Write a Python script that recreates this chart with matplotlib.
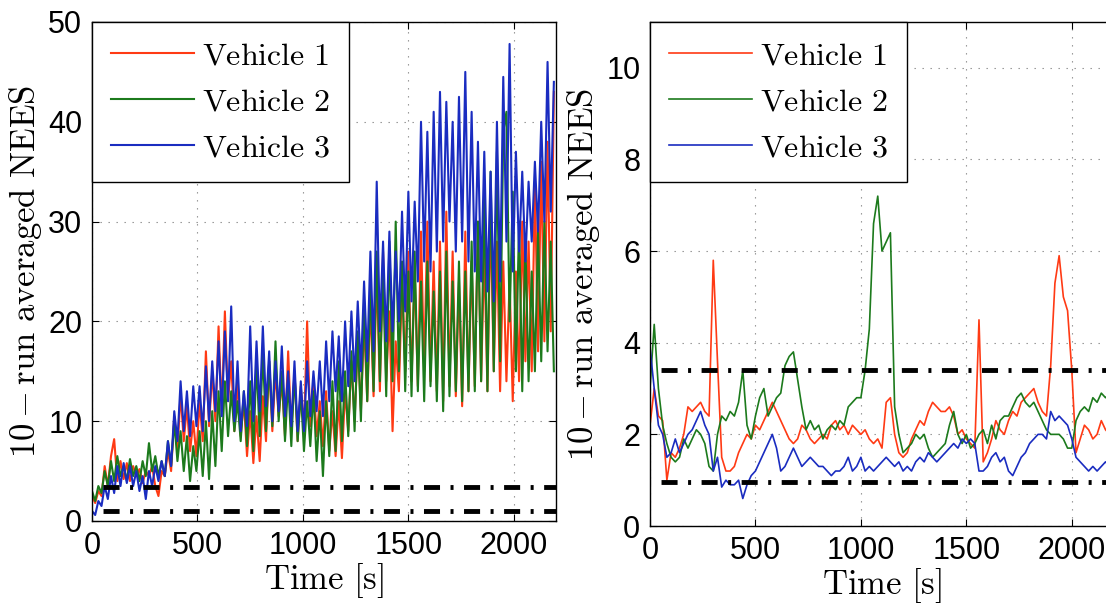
import numpy as np
import matplotlib
matplotlib.use('Agg')
import matplotlib.pyplot as plt

plt.rcParams['font.family'] = 'Liberation Sans'
plt.rcParams['mathtext.fontset'] = 'cm'

# left panel, values every 15 s
dt_left = 15
nees_left_v1 = [2.5, 1.8, 3.0, 2.5, 5.5, 3.5, 6.5, 8.2, 4.0, 6.0,
                4.2, 5.8, 4.0, 5.5, 4.5, 5.2, 3.8, 5.0, 4.5, 5.5,
                3.5, 2.5, 5.0, 4.5, 7.0, 5.0, 10.5, 7.0, 12.8, 8.0,
                11.5, 7.0, 10.0, 6.5, 12.0, 8.0, 17.0, 9.5, 15.0, 10.0,
                19.5, 11.0, 21.0, 12.0, 16.0, 9.0, 14.0, 8.5, 12.0, 6.5,
                11.0, 5.8, 10.5, 6.0, 12.5, 8.0, 16.0, 9.0, 15.0, 10.5,
                14.0, 8.5, 17.0, 9.0, 15.0, 8.0, 13.5, 9.0, 20.0, 9.5,
                14.0, 8.5, 12.0, 7.5, 13.0, 7.0, 11.0, 6.5, 12.0, 6.3,
                13.0, 9.0, 16.0, 10.0, 18.0, 11.0, 20.0, 12.0, 22.0, 12.5,
                25.0, 13.0, 27.0, 14.0, 21.0, 9.0, 18.0, 13.0, 24.0, 15.0,
                27.0, 14.0, 25.0, 13.5, 29.0, 15.0, 30.0, 14.0, 26.0, 13.0,
                28.0, 12.0, 31.0, 13.5, 27.0, 12.5, 24.0, 11.5, 29.0, 13.0,
                26.0, 13.5, 30.0, 14.0, 27.0, 13.0, 31.0, 15.0, 28.0, 13.0,
                26.0, 14.0, 24.0, 12.0, 25.0, 14.0, 30.0, 16.0, 28.0, 15.0,
                34.0, 17.0, 36.0, 18.0, 38.0, 19.0, 43.0]
nees_left_v2 = [3.0, 2.0, 3.5, 2.8, 5.0, 3.5, 6.0, 4.0, 6.5, 4.5,
                5.5, 4.0, 6.2, 4.5, 5.5, 4.0, 6.0, 4.5, 7.8, 5.0,
                6.5, 4.5, 6.0, 4.5, 8.0, 5.5, 10.0, 6.0, 9.0, 5.0,
                8.5, 4.0, 7.5, 5.0, 9.0, 4.5, 10.0, 4.2, 11.0, 5.5,
                13.0, 7.0, 14.0, 8.5, 13.0, 9.0, 12.0, 8.0, 13.0, 7.5,
                14.0, 7.0, 16.0, 8.5, 17.0, 9.0, 16.0, 9.5, 18.0, 10.0,
                15.0, 8.0, 14.0, 7.5, 15.0, 8.0, 13.0, 7.0, 12.0, 7.5,
                13.0, 6.0, 11.0, 4.5, 12.0, 6.5, 14.0, 7.0, 16.0, 8.0,
                15.0, 8.5, 17.0, 9.0, 19.0, 10.0, 22.0, 12.0, 24.0, 13.0,
                27.0, 14.0, 25.0, 12.5, 28.0, 14.0, 30.0, 15.0, 26.0, 13.0,
                25.0, 12.5, 27.0, 13.0, 24.0, 12.0, 26.0, 13.5, 23.0, 12.0,
                25.0, 11.0, 27.0, 12.5, 24.0, 13.0, 26.0, 12.0, 25.0, 13.0,
                28.0, 13.0, 30.0, 14.0, 33.0, 13.0, 35.0, 15.0, 37.0, 16.0,
                39.0, 41.0, 20.0, 33.0, 15.0, 30.0, 13.0, 28.0, 14.0, 25.0,
                15.0, 29.0, 16.0, 30.0, 17.0, 28.0, 15.0]
nees_left_v3 = [1.0, 0.6, 2.0, 1.5, 3.5, 2.2, 4.5, 2.8, 5.5, 3.5,
                5.8, 3.8, 5.5, 3.5, 5.0, 3.0, 4.5, 2.2, 5.0, 3.5,
                5.5, 4.0, 6.0, 4.5, 8.0, 5.5, 11.0, 8.0, 14.0, 9.0,
                13.0, 8.5, 13.5, 9.5, 13.5, 9.0, 15.5, 10.0, 16.0, 11.0,
                18.0, 10.5, 19.0, 12.0, 21.5, 10.0, 16.0, 9.0, 13.0, 9.5,
                19.5, 10.0, 18.0, 11.0, 19.5, 11.5, 17.0, 10.0, 16.0, 11.0,
                17.5, 10.5, 15.0, 9.5, 16.0, 9.0, 14.0, 9.0, 16.0, 10.5,
                15.0, 11.0, 16.0, 10.5, 18.0, 12.0, 19.0, 13.0, 18.5, 12.0,
                20.0, 13.5, 21.0, 14.0, 22.0, 15.0, 24.0, 16.0, 27.0, 17.0,
                34.0, 19.0, 28.0, 18.0, 29.0, 19.0, 27.0, 20.0, 31.0, 21.0,
                33.0, 22.0, 32.0, 24.0, 40.0, 26.0, 39.0, 25.0, 41.0, 27.0,
                43.0, 28.0, 42.0, 30.0, 40.0, 27.0, 42.5, 28.0, 45.0, 26.0,
                41.0, 25.0, 38.0, 24.0, 37.0, 23.0, 35.0, 22.0, 40.0, 24.0,
                44.5, 28.0, 47.8, 25.0, 37.0, 27.0, 35.0, 26.0, 34.0, 28.0,
                36.0, 29.0, 40.0, 30.0, 46.0, 31.0, 44.0]

# right panel, values every 20 s
dt_right = 20
nees_right_v1 = [2.2, 3.0, 2.4, 2.3, 1.0, 1.6, 1.5, 1.7, 2.0, 2.6,
                 2.5, 2.6, 2.7, 2.5, 2.4, 5.8, 3.6, 1.5, 1.2, 1.2,
                 1.3, 1.6, 1.8, 2.0, 1.9, 2.2, 2.1, 2.3, 2.5, 2.7,
                 2.5, 2.3, 2.1, 1.9, 1.8, 1.9, 2.2, 2.1, 1.9, 1.8,
                 1.9, 2.0, 1.9, 2.2, 2.3, 2.1, 2.2, 2.0, 2.2, 2.1,
                 2.0, 2.1, 1.9, 1.8, 1.9, 1.7, 2.7, 2.8, 2.0, 1.6,
                 1.5, 1.6, 1.9, 2.1, 2.3, 2.2, 2.5, 2.7, 2.6, 2.5,
                 2.5, 2.6, 2.4, 2.0, 2.1, 1.9, 1.8, 1.7, 4.5, 1.4,
                 1.6, 1.9, 2.3, 2.1, 2.0, 2.3, 2.5, 2.4, 2.7, 2.8,
                 2.9, 3.0, 2.7, 2.5, 2.4, 3.5, 5.3, 5.9, 5.0, 4.7,
                 3.4, 1.6, 1.9, 2.2, 2.1, 1.9, 2.0, 2.3, 2.1, 2.0,
                 2.1]
nees_right_v2 = [3.0, 4.4, 3.0, 2.2, 1.8, 1.5, 1.4, 1.5, 1.9, 1.7,
                 1.9, 2.1, 2.0, 1.8, 1.3, 1.2, 2.0, 2.4, 2.3, 2.5,
                 2.4, 2.7, 3.4, 2.2, 1.9, 2.4, 2.8, 3.0, 2.4, 2.6,
                 2.8, 2.9, 3.5, 3.7, 3.8, 3.2, 2.6, 2.1, 2.3, 2.1,
                 2.2, 1.9, 2.1, 2.2, 2.1, 2.3, 2.2, 2.6, 2.7, 2.8,
                 2.8, 3.4, 4.3, 6.6, 7.2, 6.0, 6.2, 6.4, 2.6, 2.0,
                 1.6, 1.7, 1.8, 2.0, 1.9, 2.0, 1.7, 1.5, 1.6, 1.7,
                 1.8, 2.2, 2.5, 2.0, 1.8, 2.0, 1.7, 1.8, 2.0, 2.1,
                 1.8, 2.2, 1.9, 2.3, 2.4, 2.4, 2.6, 2.8, 2.9, 2.7,
                 2.6, 2.7, 2.5, 2.3, 2.1, 2.0, 2.0, 2.0, 1.9, 1.7,
                 1.7, 2.3, 2.5, 2.6, 2.5, 2.8, 2.7, 2.9, 2.8, 2.9,
                 3.0]
nees_right_v3 = [3.9, 3.0, 2.2, 2.0, 1.5, 1.6, 1.9, 1.6, 1.8, 2.0,
                 2.1, 2.3, 2.5, 2.2, 2.0, 1.2, 1.5, 0.85, 1.0, 0.9,
                 0.9, 1.0, 0.6, 0.9, 1.1, 1.2, 1.4, 1.6, 1.8, 2.0,
                 1.7, 1.2, 1.3, 1.5, 1.7, 1.5, 1.3, 1.4, 1.5, 1.4,
                 1.3, 1.3, 1.2, 1.1, 1.2, 1.2, 1.3, 1.5, 1.2, 1.3,
                 1.5, 1.2, 1.3, 1.2, 1.3, 1.4, 1.5, 1.4, 1.3, 1.4,
                 1.2, 1.3, 1.2, 1.4, 1.5, 1.4, 1.6, 1.5, 1.4, 1.5,
                 1.6, 1.7, 1.8, 1.7, 1.9, 1.8, 1.9, 1.8, 1.2, 1.2,
                 1.3, 1.5, 1.6, 1.4, 1.5, 1.2, 1.1, 1.3, 1.5, 1.6,
                 1.8, 1.9, 2.0, 2.0, 1.9, 2.5, 2.3, 2.4, 2.3, 2.2,
                 1.9, 1.5, 1.4, 1.3, 1.2, 1.3, 1.2, 1.3, 1.4, 1.3,
                 1.5]

chi2_bounds = [0.96, 3.4]
labels = ['Vehicle 1', 'Vehicle 2', 'Vehicle 3']
colors = ['#ff3a14', '#1c7a1c', '#1a2cc0']

fig = plt.figure(figsize=(11.06, 6.06), dpi=100)
ax1 = fig.add_axes([0.0832, 0.1403, 0.4195, 0.8234])
ax2 = fig.add_axes([0.5877, 0.1320, 0.4195, 0.8317])

panels = [
    (ax1, dt_left, [nees_left_v1, nees_left_v2, nees_left_v3], 50, np.arange(0, 51, 10), 1.5),
    (ax2, dt_right, [nees_right_v1, nees_right_v2, nees_right_v3], 11, np.arange(0, 11, 2), 1.2),
]

for ax, dt, series, ymax, yticks, lw in panels:
    for vals, lab, col in zip(series, labels, colors):
        t = dt * np.arange(len(vals))
        ax.plot(t, vals, color=col, lw=lw, label=r'$\mathrm{' + lab.replace(' ', r'\ ') + '}$')
    for b in chi2_bounds:
        ax.axhline(b, color='black', lw=3.5,
                   linestyle=(5.97, (3.3, 2.16, 0.62, 2.16)), zorder=3)
    ax.set_xlim(0, 2200)
    ax.set_ylim(0, ymax)
    ax.set_xticks([0, 500, 1000, 1500, 2000])
    ax.set_yticks(yticks)
    ax.tick_params(direction='in', length=5, width=0.8, labelsize=22,
                   top=True, right=True, pad=7)
    ax.grid(True, color='#8a8a8a', lw=0.8, linestyle=(0, (1.2, 6)))
    for s in ax.spines.values():
        s.set_linewidth(1.0)
    ax.set_xlabel(r'$\mathrm{Time\ [s]}$', fontsize=25, labelpad=0)
    ax.set_ylabel(r'$10 - \mathrm{run\ averaged\ NEES}$', fontsize=25, labelpad=3)
    leg = ax.legend(loc='upper left', fontsize=23, borderaxespad=0, fancybox=False,
                    edgecolor='black', framealpha=1, handlelength=2.6,
                    handletextpad=0.25, borderpad=0.6, labelspacing=0.5)
    leg.get_frame().set_linewidth(1.0)

fig.savefig('out.png', dpi=100)
